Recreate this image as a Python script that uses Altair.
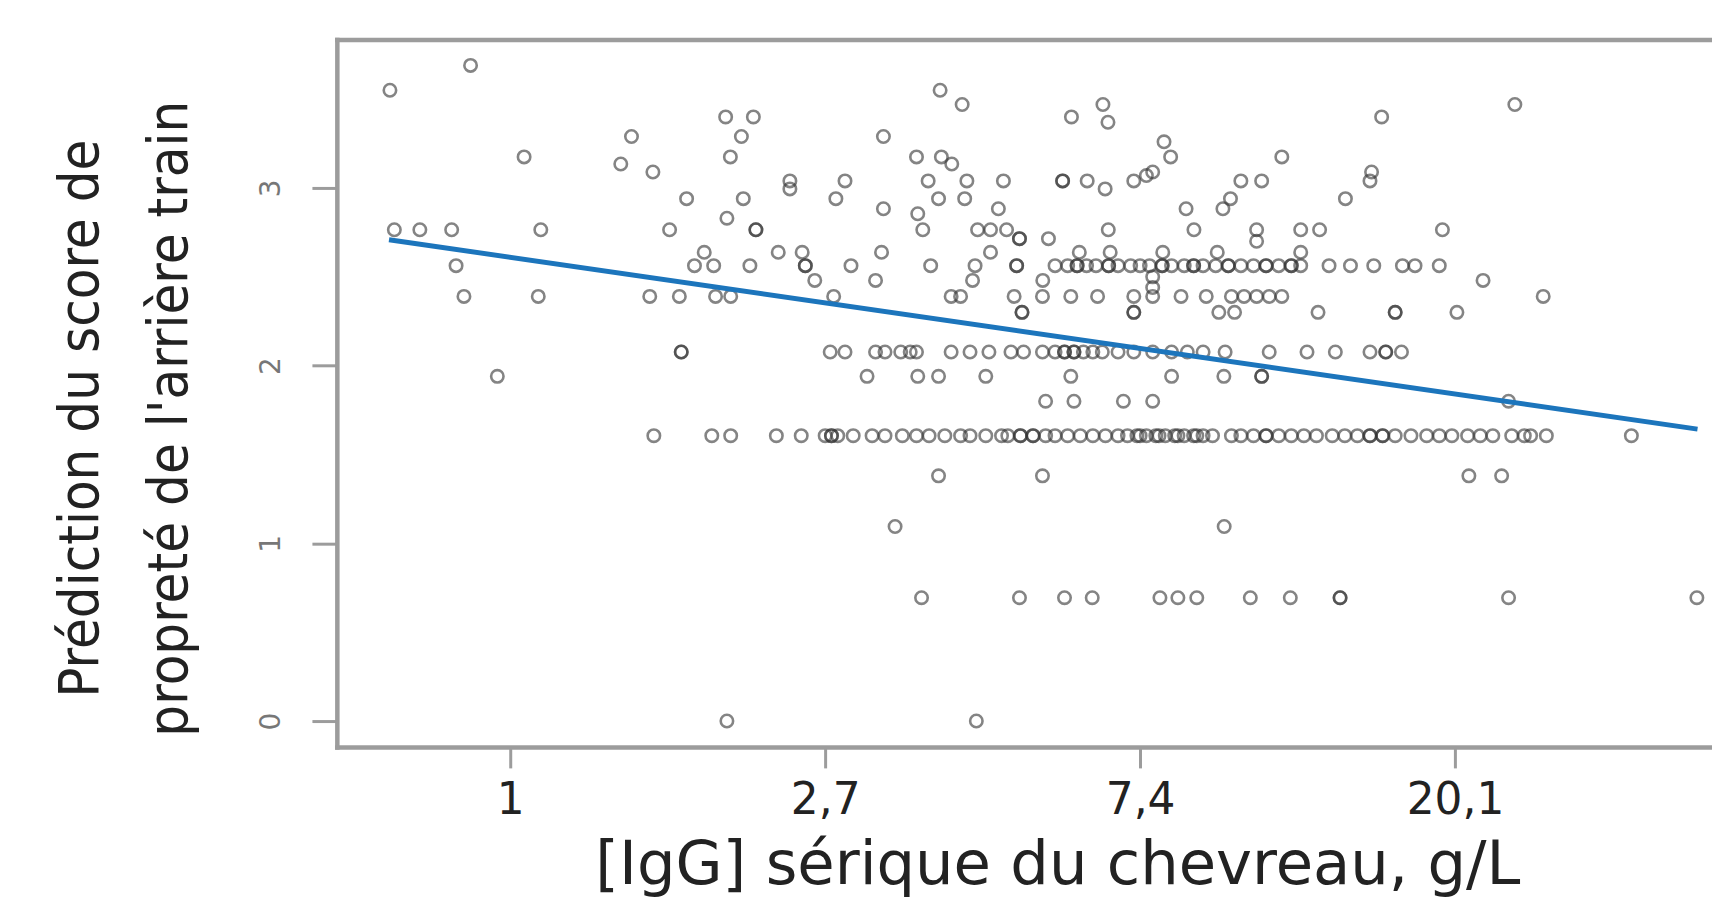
import altair as alt
import pandas as pd

# ---- data (x = ln of serum IgG, y = predicted score) ----
score_levels = [3.69, 3.55, 3.47, 3.40, 3.37, 3.29, 3.26, 3.175, 3.135, 3.09, 3.07,
                3.04, 2.995, 2.94, 2.883, 2.855, 2.83, 2.765, 2.715, 2.70, 2.638,
                2.563, 2.50, 2.48, 2.44, 2.39, 2.30, 2.077, 1.94, 1.80, 1.606,
                1.38, 1.095, 0.694, 0.0]

log_igg_rows = [
    [-0.126],
    [-0.382, 1.365],
    [1.435, 1.882, 3.19],
    [0.684, 0.772, 1.782, 2.767],
    [1.898],
    [0.385, 0.734, 1.185],
    [2.076],
    [0.044, 0.699, 1.29, 1.369, 2.097, 2.45],
    [0.351, 1.402],
    [0.453, 2.04, 2.735],
    [2.02],
    [0.888, 1.063, 1.327, 1.45, 1.566, 1.754, 1.754, 1.832, 1.98, 2.32, 2.386, 2.73],
    [0.888, 1.889],
    [0.56, 0.74, 1.034, 1.36, 1.443, 2.287, 2.652],
    [1.185, 1.55, 2.146, 2.263],
    [1.294],
    [0.688],
    [-0.368, -0.287, -0.186, 0.097, 0.506, 0.78, 0.78, 1.31, 1.484, 1.525, 1.576,
     1.899, 2.171, 2.37, 2.51, 2.57, 2.96],
    [1.617, 1.617, 1.709],
    [2.37],
    [0.616, 0.851, 0.927, 1.179, 1.525, 1.807, 1.905, 2.072, 2.245, 2.51],
    [-0.172, 0.585, 0.646, 0.761, 0.937, 0.937, 1.082, 1.335, 1.476, 1.608, 1.608,
     1.73, 1.77, 1.80, 1.80, 1.83, 1.86, 1.90, 1.90, 1.93, 1.97, 2.00, 2.03, 2.07,
     2.07, 2.10, 2.14, 2.17, 2.17, 2.20, 2.24, 2.28, 2.28, 2.32, 2.36, 2.40, 2.40,
     2.44, 2.48, 2.48, 2.51, 2.60, 2.668, 2.742, 2.833, 2.873, 2.95],
    [2.04],
    [0.967, 1.16, 1.468, 1.691, 3.089],
    [2.04],
    [-0.147, 0.089, 0.443, 0.537, 0.652, 0.70, 1.027, 1.40, 1.43, 1.60, 1.69, 1.78,
     1.865, 1.98, 2.04, 2.13, 2.21, 2.29, 2.33, 2.37, 2.41, 2.45, 3.28],
    [1.625, 1.625, 1.98, 1.98, 2.25, 2.30, 2.565, 2.81, 2.81, 3.006],
    [0.543, 0.543, 1.016, 1.063, 1.16, 1.19, 1.24, 1.27, 1.29, 1.40, 1.46, 1.52,
     1.59, 1.63, 1.69, 1.73, 1.76, 1.76, 1.79, 1.79, 1.82, 1.85, 1.88, 1.93, 1.98,
     2.04, 2.10, 2.15, 2.20, 2.27, 2.41, 2.53, 2.62, 2.73, 2.78, 2.78, 2.83],
    [-0.041, 1.133, 1.294, 1.36, 1.51, 1.78, 2.10, 2.266, 2.386, 2.386],
    [1.70, 1.79, 1.947, 2.04, 3.17],
    [0.456, 0.64, 0.70, 0.845, 0.924, 1.0, 1.02, 1.02, 1.04, 1.089, 1.149, 1.19,
     1.245, 1.29, 1.33, 1.38, 1.43, 1.46, 1.51, 1.56, 1.58, 1.62, 1.62, 1.66, 1.66,
     1.70, 1.73, 1.77, 1.81, 1.85, 1.89, 1.93, 1.96, 1.99, 2.0, 2.02, 2.05, 2.06,
     2.08, 2.11, 2.12, 2.14, 2.17, 2.18, 2.20, 2.23, 2.29, 2.32, 2.36, 2.40, 2.40,
     2.44, 2.48, 2.52, 2.56, 2.61, 2.65, 2.69, 2.73, 2.73, 2.77, 2.77, 2.81, 2.86,
     2.91, 2.95, 2.99, 3.04, 3.08, 3.12, 3.18, 3.22, 3.24, 3.29, 3.56],
    [1.36, 1.69, 3.044, 3.148],
    [1.222, 2.267],
    [1.306, 1.617, 1.76, 1.848, 2.063, 2.12, 2.18, 2.35, 2.477, 2.635, 2.635, 3.17, 3.768],
    [0.688, 1.48],
]

fit_log_igg = [-0.385, 3.77]
fit_score = [2.709, 1.643]

x_tick_values = [0, 1, 2, 3]
x_tick_labels = ["1", "2,7", "7,4", "20,1"]
y_tick_values = [0, 1, 2, 3]

x_title = "[IgG] sérique du chevreau, g/L"
y_title = ["Prédiction du score de", "propreté de l'arrière train"]

# ---- tables ----
rows = []
for lvl, xs in zip(score_levels, log_igg_rows):
    for v in xs:
        rows.append({"log_igg": v, "score": lvl})
points_df = pd.DataFrame(rows)
fit_df = pd.DataFrame({"log_igg": fit_log_igg, "score": fit_score})

FRAME = "#9c9c9c"
W, H = 1380, 710

x_scale = alt.Scale(domain=[-0.5506, 3.816], nice=False, zero=False)
y_scale = alt.Scale(domain=[-0.146, 3.836], nice=False, zero=False)

label_expr = "[" + ",".join("'%s'" % l for l in x_tick_labels) + "][datum.value]"

x_axis_bottom = alt.Axis(
    orient="bottom", values=x_tick_values, labelExpr=label_expr, title=x_title,
    grid=False, domainColor=FRAME, domainWidth=4.5, domainCap="square",
    tickColor=FRAME, tickWidth=3, tickSize=21,
    labelFont="DejaVu Sans", labelFontSize=44, labelColor="#222222",
    labelPadding=11, labelOverlap=False, labelFlush=False,
    titleFont="DejaVu Sans", titleFontSize=61, titleFontWeight="normal",
    titleColor="#222222", titleX=723, titleY=137, titleAlign="center",
    titleBaseline="alphabetic",
)

x_axis_top = alt.Axis(
    orient="top", labels=False, ticks=False, title=None, grid=False,
    domainColor=FRAME, domainWidth=4.5, domainCap="square",
)

y_axis = alt.Axis(
    values=y_tick_values, title=y_title, grid=False,
    domainColor=FRAME, domainWidth=4.5, domainCap="square",
    tickColor=FRAME, tickWidth=3, tickSize=25,
    labelFont="DejaVu Sans", labelFontSize=28, labelColor="#777777",
    labelAngle=270, labelAlign="center", labelBaseline="middle",
    labelPadding=41, labelOverlap=False, labelFlush=False,
    titleFont="'DejaVu Sans Condensed', 'Liberation Sans'", titleFontSize=56,
    titleFontWeight="normal", titleColor="#222222",
    titleAngle=270, titleAlign="center", titleBaseline="alphabetic",
    titleX=-240, titleY=380, titleLineHeight=89,
)

points = alt.Chart(points_df).mark_point(
    shape="circle", filled=False, size=155, strokeWidth=2.6,
    color="#333333", opacity=0.6,
).encode(
    x=alt.X("log_igg:Q", scale=x_scale, axis=x_axis_bottom),
    y=alt.Y("score:Q", scale=y_scale, axis=y_axis),
)

fit = alt.Chart(fit_df).mark_line(color="#1c75bc", strokeWidth=5).encode(
    x=alt.X("log_igg:Q", scale=x_scale, axis=x_axis_top),
    y=alt.Y("score:Q", scale=y_scale, axis=y_axis),
)

chart = alt.layer(points, fit).resolve_axis(x="independent").properties(
    width=W, height=H,
    autosize=alt.AutoSizeParams(type="none"),
    padding={"left": 330, "top": 30, "right": 0, "bottom": 150},
    background="white",
).configure_view(stroke=None)

chart.save("out.html", embed_options={"renderer": "svg", "actions": False})
